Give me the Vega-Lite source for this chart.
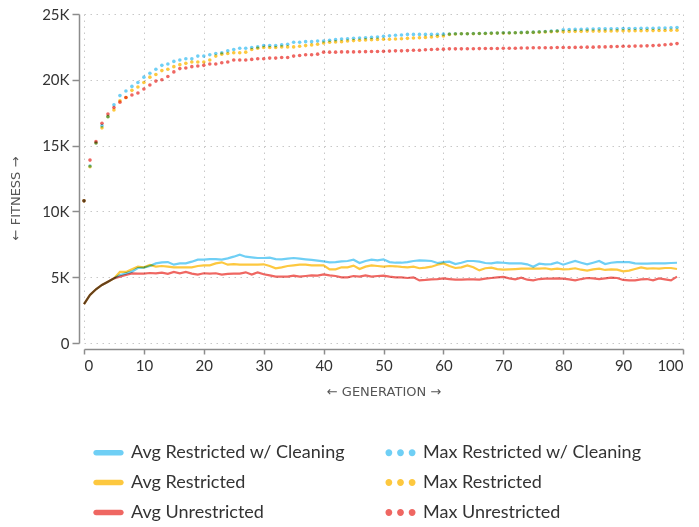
{
"$schema": "https://vega.github.io/schema/vega-lite/v6.json",
"autosize": "none",
"width": 599,
"height": 329,
"padding": {"left": 84, "top": 14, "right": 16, "bottom": 184},
"background": "white",
"config": {"view": {"stroke": null}, "font": "Lato"},
"data": {"values": [
{"g":0,"ac":2950,"ar":2950,"au":2950,"mc":10800,"mr":10800,"mu":10800},
{"g":1,"ac":3650,"ar":3650,"au":3650,"mc":13450,"mr":13400,"mu":13900},
{"g":2,"ac":4080,"ar":4080,"au":4080,"mc":15200,"mr":15200,"mu":15300},
{"g":3,"ac":4410,"ar":4410,"au":4410,"mc":16500,"mr":16350,"mu":16700},
{"g":4,"ac":4660,"ar":4660,"au":4660,"mc":17200,"mr":17200,"mu":17400},
{"g":5,"ac":4910,"ar":4910,"au":4910,"mc":18100,"mr":17700,"mu":17900},
{"g":6,"ac":5170,"ar":5400,"au":5040,"mc":18800,"mr":18400,"mu":18300},
{"g":7,"ac":5290,"ar":5400,"au":5170,"mc":19150,"mr":18650,"mu":18650},
{"g":8,"ac":5420,"ar":5600,"au":5290,"mc":19500,"mr":19200,"mu":18850},
{"g":9,"ac":5700,"ar":5800,"au":5270,"mc":19800,"mr":19450,"mu":19000},
{"g":10,"ac":5730,"ar":5750,"au":5270,"mc":20200,"mr":19800,"mu":19300},
{"g":11,"ac":5850,"ar":5930,"au":5320,"mc":20500,"mr":20200,"mu":19600},
{"g":12,"ac":6050,"ar":5800,"au":5290,"mc":20800,"mr":20400,"mu":19900},
{"g":13,"ac":6130,"ar":5850,"au":5350,"mc":21100,"mr":20700,"mu":20000},
{"g":14,"ac":6150,"ar":5800,"au":5250,"mc":21200,"mr":20800,"mu":20250},
{"g":15,"ac":5950,"ar":5750,"au":5400,"mc":21400,"mr":21000,"mu":20600},
{"g":16,"ac":6050,"ar":5750,"au":5300,"mc":21500,"mr":21150,"mu":20850},
{"g":17,"ac":6050,"ar":5750,"au":5400,"mc":21600,"mr":21250,"mu":20900},
{"g":18,"ac":6180,"ar":5750,"au":5270,"mc":21600,"mr":21350,"mu":21000},
{"g":19,"ac":6330,"ar":5850,"au":5200,"mc":21800,"mr":21350,"mu":21050},
{"g":20,"ac":6330,"ar":5900,"au":5300,"mc":21800,"mr":21350,"mu":21100},
{"g":21,"ac":6380,"ar":5900,"au":5270,"mc":21900,"mr":21500,"mu":21200},
{"g":22,"ac":6380,"ar":6050,"au":5300,"mc":22000,"mr":21800,"mu":21200},
{"g":23,"ac":6330,"ar":6130,"au":5200,"mc":22050,"mr":21950,"mu":21300},
{"g":24,"ac":6430,"ar":5950,"au":5250,"mc":22200,"mr":22000,"mu":21350},
{"g":25,"ac":6560,"ar":6000,"au":5270,"mc":22300,"mr":22050,"mu":21500},
{"g":26,"ac":6710,"ar":5950,"au":5270,"mc":22400,"mr":22050,"mu":21500},
{"g":27,"ac":6560,"ar":5950,"au":5370,"mc":22400,"mr":22100,"mu":21500},
{"g":28,"ac":6510,"ar":5950,"au":5200,"mc":22450,"mr":22300,"mu":21550},
{"g":29,"ac":6460,"ar":5950,"au":5370,"mc":22500,"mr":22400,"mu":21600},
{"g":30,"ac":6460,"ar":5980,"au":5220,"mc":22600,"mr":22450,"mu":21600},
{"g":31,"ac":6480,"ar":5850,"au":5140,"mc":22600,"mr":22450,"mu":21650},
{"g":32,"ac":6380,"ar":5680,"au":5040,"mc":22600,"mr":22450,"mu":21650},
{"g":33,"ac":6360,"ar":5750,"au":5040,"mc":22650,"mr":22500,"mu":21700},
{"g":34,"ac":6410,"ar":5850,"au":5040,"mc":22700,"mr":22500,"mu":21700},
{"g":35,"ac":6460,"ar":5900,"au":5120,"mc":22850,"mr":22500,"mu":21800},
{"g":36,"ac":6410,"ar":5950,"au":5040,"mc":22850,"mr":22550,"mu":21850},
{"g":37,"ac":6360,"ar":5950,"au":5090,"mc":22900,"mr":22600,"mu":21900},
{"g":38,"ac":6310,"ar":5900,"au":5140,"mc":22900,"mr":22650,"mu":21900},
{"g":39,"ac":6260,"ar":5900,"au":5120,"mc":22950,"mr":22700,"mu":21950},
{"g":40,"ac":6200,"ar":5900,"au":5220,"mc":22950,"mr":22800,"mu":22100},
{"g":41,"ac":6130,"ar":5600,"au":5140,"mc":23000,"mr":22850,"mu":22100},
{"g":42,"ac":6150,"ar":5600,"au":5090,"mc":23050,"mr":22880,"mu":22100},
{"g":43,"ac":6200,"ar":5750,"au":4990,"mc":23100,"mr":22900,"mu":22120},
{"g":44,"ac":6230,"ar":5750,"au":4990,"mc":23120,"mr":22950,"mu":22120},
{"g":45,"ac":6330,"ar":5880,"au":5090,"mc":23150,"mr":22980,"mu":22120},
{"g":46,"ac":6080,"ar":5620,"au":5040,"mc":23180,"mr":23000,"mu":22130},
{"g":47,"ac":6230,"ar":5800,"au":5140,"mc":23200,"mr":23030,"mu":22140},
{"g":48,"ac":6330,"ar":5900,"au":5040,"mc":23220,"mr":23050,"mu":22150},
{"g":49,"ac":6280,"ar":5850,"au":5090,"mc":23250,"mr":23070,"mu":22150},
{"g":50,"ac":6360,"ar":5800,"au":5120,"mc":23300,"mr":23080,"mu":22160},
{"g":51,"ac":6150,"ar":5850,"au":5040,"mc":23350,"mr":23080,"mu":22180},
{"g":52,"ac":6100,"ar":5830,"au":4990,"mc":23380,"mr":23100,"mu":22200},
{"g":53,"ac":6100,"ar":5780,"au":4990,"mc":23400,"mr":23120,"mu":22200},
{"g":54,"ac":6150,"ar":5750,"au":4940,"mc":23450,"mr":23150,"mu":22220},
{"g":55,"ac":6230,"ar":5800,"au":4990,"mc":23450,"mr":23180,"mu":22250},
{"g":56,"ac":6280,"ar":5680,"au":4760,"mc":23450,"mr":23200,"mu":22250},
{"g":57,"ac":6260,"ar":5730,"au":4790,"mc":23450,"mr":23220,"mu":22280},
{"g":58,"ac":6230,"ar":5800,"au":4840,"mc":23450,"mr":23250,"mu":22300},
{"g":59,"ac":6080,"ar":5950,"au":4860,"mc":23460,"mr":23300,"mu":22320},
{"g":60,"ac":6150,"ar":6050,"au":4910,"mc":23470,"mr":23330,"mu":22330},
{"g":61,"ac":6180,"ar":5850,"au":4860,"mc":23480,"mr":23450,"mu":22350},
{"g":62,"ac":6000,"ar":5700,"au":4810,"mc":23500,"mr":23480,"mu":22350},
{"g":63,"ac":6100,"ar":5750,"au":4810,"mc":23500,"mr":23500,"mu":22350},
{"g":64,"ac":6230,"ar":5900,"au":4840,"mc":23500,"mr":23500,"mu":22360},
{"g":65,"ac":6230,"ar":5750,"au":4840,"mc":23520,"mr":23500,"mu":22360},
{"g":66,"ac":6180,"ar":5520,"au":4810,"mc":23520,"mr":23520,"mu":22370},
{"g":67,"ac":6080,"ar":5680,"au":4890,"mc":23530,"mr":23520,"mu":22380},
{"g":68,"ac":6050,"ar":5730,"au":4940,"mc":23550,"mr":23530,"mu":22380},
{"g":69,"ac":6130,"ar":5620,"au":4990,"mc":23550,"mr":23550,"mu":22380},
{"g":70,"ac":6100,"ar":5570,"au":5020,"mc":23570,"mr":23550,"mu":22400},
{"g":71,"ac":6050,"ar":5600,"au":4910,"mc":23580,"mr":23560,"mu":22400},
{"g":72,"ac":6050,"ar":5620,"au":4840,"mc":23580,"mr":23570,"mu":22400},
{"g":73,"ac":6050,"ar":5650,"au":4960,"mc":23600,"mr":23580,"mu":22420},
{"g":74,"ac":5980,"ar":5650,"au":4810,"mc":23600,"mr":23600,"mu":22420},
{"g":75,"ac":5800,"ar":5650,"au":4760,"mc":23620,"mr":23600,"mu":22430},
{"g":76,"ac":6030,"ar":5650,"au":4860,"mc":23650,"mr":23620,"mu":22430},
{"g":77,"ac":5980,"ar":5680,"au":4890,"mc":23670,"mr":23640,"mu":22430},
{"g":78,"ac":6000,"ar":5600,"au":4890,"mc":23700,"mr":23660,"mu":22440},
{"g":79,"ac":6130,"ar":5650,"au":4910,"mc":23730,"mr":23680,"mu":22450},
{"g":80,"ac":5950,"ar":5600,"au":4890,"mc":23800,"mr":23660,"mu":22450},
{"g":81,"ac":6100,"ar":5620,"au":4840,"mc":23820,"mr":23670,"mu":22450},
{"g":82,"ac":6230,"ar":5680,"au":4760,"mc":23830,"mr":23680,"mu":22460},
{"g":83,"ac":6100,"ar":5570,"au":4860,"mc":23840,"mr":23680,"mu":22470},
{"g":84,"ac":5980,"ar":5500,"au":4940,"mc":23850,"mr":23700,"mu":22480},
{"g":85,"ac":6100,"ar":5600,"au":4910,"mc":23860,"mr":23700,"mu":22480},
{"g":86,"ac":6230,"ar":5650,"au":4860,"mc":23870,"mr":23700,"mu":22500},
{"g":87,"ac":6000,"ar":5550,"au":4910,"mc":23870,"mr":23700,"mu":22500},
{"g":88,"ac":6100,"ar":5600,"au":4960,"mc":23880,"mr":23710,"mu":22520},
{"g":89,"ac":6150,"ar":5570,"au":4940,"mc":23880,"mr":23720,"mu":22530},
{"g":90,"ac":6150,"ar":5440,"au":4790,"mc":23890,"mr":23720,"mu":22550},
{"g":91,"ac":6150,"ar":5500,"au":4760,"mc":23900,"mr":23720,"mu":22550},
{"g":92,"ac":6050,"ar":5620,"au":4760,"mc":23900,"mr":23730,"mu":22560},
{"g":93,"ac":6030,"ar":5750,"au":4840,"mc":23910,"mr":23730,"mu":22570},
{"g":94,"ac":6030,"ar":5650,"au":4860,"mc":23920,"mr":23740,"mu":22580},
{"g":95,"ac":6050,"ar":5680,"au":4760,"mc":23920,"mr":23740,"mu":22600},
{"g":96,"ac":6050,"ar":5650,"au":4910,"mc":23930,"mr":23750,"mu":22620},
{"g":97,"ac":6050,"ar":5700,"au":4840,"mc":23940,"mr":23750,"mu":22660},
{"g":98,"ac":6080,"ar":5700,"au":4760,"mc":23950,"mr":23760,"mu":22700},
{"g":99,"ac":6100,"ar":5620,"au":5040,"mc":23970,"mr":23770,"mu":22750}
]},
"encoding": {
  "x": {"field": "g", "type": "quantitative",
        "scale": {"domain": [0, 100], "nice": false},
        "axis": {"values": [0,10,20,30,40,50,60,70,80,90,100], "offset": 6,
                 "title": "← GENERATION →", "titleFontSize": 13, "titleFont": "DejaVu Sans", "titleFontWeight": "normal",
                 "titleColor": "#555555", "titleBaseline": "middle", "titleY": 42,
                 "labelFontSize": 15, "labelColor": "#333333", "labelPadding": 4,
                 "domainColor": "#8c8c8c", "domainWidth": 1.5, "tickColor": "#8c8c8c", "tickSize": 5, "tickWidth": 1.5,
                 "grid": true, "gridColor": "#c8c8c8", "gridDash": [1.5, 4.5], "gridWidth": 1}},
  "y": {"field": "value", "type": "quantitative",
        "scale": {"domain": [0, 25000], "nice": false},
        "axis": {"values": [0,5000,10000,15000,20000,25000], "offset": 5,
                 "labelExpr": "datum.value === 0 ? '0' : (datum.value / 1000) + 'K'",
                 "title": "← FITNESS →", "titleFontSize": 13, "titleFont": "DejaVu Sans", "titleFontWeight": "normal",
                 "titleColor": "#555555", "titleX": -64, "titleY": 184, "titleAngle": 270, "titleBaseline": "middle",
                 "labelFontSize": 15, "labelColor": "#333333", "labelPadding": 3,
                 "domainColor": "#8c8c8c", "domainWidth": 1.5, "tickColor": "#8c8c8c", "tickSize": 7, "tickWidth": 1.5,
                 "grid": true, "gridColor": "#c8c8c8", "gridDash": [1.5, 4.5], "gridWidth": 1}},
  "color": {"field": "key", "type": "nominal",
            "scale": {"domain": ["ac","ar","au","mc","mr","mu"],
                      "range": ["#6fcff5","#fdc83f","#ef6762","#6fcff5","#fdc83f","#ef6762"]},
            "legend": {"orient": "none", "legendX": 9, "legendY": 423, "columns": 2, "title": null,
                       "padding": 0, "symbolSize": 961, "labelOffset": 7, "labelFontSize": 18, "labelLimit": 400,
                       "labelColor": "#333333", "labelFont": "Lato", "rowPadding": 5, "columnPadding": 40,
                       "labelExpr": "{'ac':'Avg Restricted w/ Cleaning','mc':'Max Restricted w/ Cleaning','ar':'Avg Restricted','mr':'Max Restricted','au':'Avg Unrestricted','mu':'Max Unrestricted'}[datum.value]",
                       "encode": {"symbols": {"update": {
                         "shape": {"signal": "datum.value[0] === 'a' ? 'M-0.8,-0.18L0.8,-0.18A0.18,0.18 0 0 1 0.8,0.18L-0.8,0.18A0.18,0.18 0 0 1 -0.8,-0.18Z' : 'M-0.97,0A0.22,0.22 0 1 1 -0.53,0A0.22,0.22 0 1 1 -0.97,0ZM-0.22,0A0.22,0.22 0 1 1 0.22,0A0.22,0.22 0 1 1 -0.22,0ZM0.53,0A0.22,0.22 0 1 1 0.97,0A0.22,0.22 0 1 1 0.53,0Z'"},
                         "fill": {"signal": "scale('color', datum.value)"},
                         "fillOpacity": {"value": 1},
                         "stroke": {"value": "transparent"},
                         "strokeWidth": {"value": 0},
                         "opacity": {"value": 1}
                       }}}}}
},
"layer": [
  {"transform": [{"fold": ["ac","ar","au"]}],
   "mark": {"type": "line", "strokeWidth": 2.2, "blend": "multiply", "interpolate": "linear"}},
  {"transform": [{"fold": ["mc","mr","mu"]}],
   "mark": {"type": "point", "shape": "circle", "filled": true, "size": 13, "opacity": 1, "blend": "multiply"}}
]
}
